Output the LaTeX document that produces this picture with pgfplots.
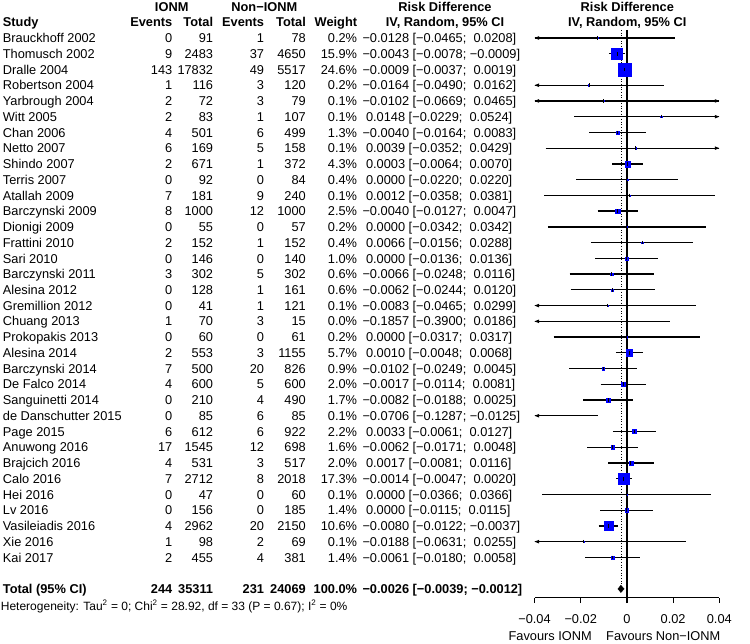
\documentclass[border=0pt]{standalone}
\usepackage{pgfplots}
\pgfplotsset{compat=1.18}
\usepackage{pgfplotstable}
\usepackage{fontspec}
\setmainfont{Liberation Sans}
\newcommand\fs{\fontsize{12.8}{15}\selectfont}
\newcommand\hs{\fontsize{12}{14}\selectfont}
\pgfdeclareplotmark{larr}{\pgfpathmoveto{\pgfqpoint{0pt}{0pt}}\pgfpathlineto{\pgfqpoint{4.5pt}{1.8pt}}\pgfpathlineto{\pgfqpoint{4.5pt}{-1.8pt}}\pgfpathclose\pgfusepathqfill}
\pgfdeclareplotmark{rarr}{\pgfpathmoveto{\pgfqpoint{0pt}{0pt}}\pgfpathlineto{\pgfqpoint{-4.5pt}{1.8pt}}\pgfpathlineto{\pgfqpoint{-4.5pt}{-1.8pt}}\pgfpathclose\pgfusepathqfill}
\pgfplotstableread{
r est lo hi w
-1 -0.0128 -0.0465 0.0208 0.2
-2 -0.0043 -0.0078 -0.0009 15.9
-3 -0.0009 -0.0037 0.0019 24.6
-4 -0.0164 -0.0490 0.0162 0.2
-5 -0.0102 -0.0669 0.0465 0.1
-6 0.0148 -0.0229 0.0524 0.1
-7 -0.0040 -0.0164 0.0083 1.3
-8 0.0039 -0.0352 0.0429 0.1
-9 0.0003 -0.0064 0.0070 4.3
-10 0.0000 -0.0220 0.0220 0.4
-11 0.0012 -0.0358 0.0381 0.1
-12 -0.0040 -0.0127 0.0047 2.5
-13 0.0000 -0.0342 0.0342 0.2
-14 0.0066 -0.0156 0.0288 0.4
-15 0.0000 -0.0136 0.0136 1.0
-16 -0.0066 -0.0248 0.0116 0.6
-17 -0.0062 -0.0244 0.0120 0.6
-18 -0.0083 -0.0465 0.0299 0.1
-19 -0.1857 -0.3900 0.0186 0.0
-20 0.0000 -0.0317 0.0317 0.2
-21 0.0010 -0.0048 0.0068 5.7
-22 -0.0102 -0.0249 0.0045 0.9
-23 -0.0017 -0.0114 0.0081 2.0
-24 -0.0082 -0.0188 0.0025 1.7
-25 -0.0706 -0.1287 -0.0125 0.1
-26 0.0033 -0.0061 0.0127 2.2
-27 -0.0062 -0.0171 0.0048 1.6
-28 0.0017 -0.0081 0.0116 2.0
-29 -0.0014 -0.0047 0.0020 17.3
-30 0.0000 -0.0366 0.0366 0.1
-31 0.0000 -0.0115 0.0115 1.4
-32 -0.0080 -0.0122 -0.0037 10.6
-33 -0.0188 -0.0631 0.0255 0.1
-34 -0.0061 -0.0180 0.0058 1.4
}\studies
\begin{document}
\begin{tikzpicture}[font=\fs, every node/.style={inner sep=0pt}]
\useasboundingbox (0,0) rectangle (750pt,-643pt);
\begin{axis}[
  at={(534.5pt,-597.7pt)}, anchor=south west,
  x=2310pt, y=15.74pt,
  xmin=-0.04, xmax=0.04, ymin=-36.56, ymax=-0.49,
  axis x line*=bottom, axis y line=none,
  clip=false,
  scaled x ticks=false,
  axis line style={line width=1.2pt, black},
  xtick={-0.04,-0.02,0,0.02,0.04},
  xticklabels={−0.04,−0.02,0,0.02,0.04},
  tick align=outside, major tick length=5.5pt,
  every tick/.style={black, line width=1.2pt},
  xticklabel style={font=\fs, anchor=north, yshift=-11pt},
]
\addplot[black, line width=1.2pt] coordinates {(0,-0.49) (0,-36.56)};
\addplot[black, line width=0.7pt, dotted] coordinates {(-0.0026,-0.49) (-0.0026,-35.7)};
% squares
\addplot[scatter, only marks, mark=square*,
  restrict x to domain=-0.04:0.04,
  scatter/use mapped color={draw=blue, fill=blue},
  visualization depends on={max(1.36*sqrt(\thisrow{w}),0.6) \as \msz},
  scatter/@pre marker code/.append style={/tikz/mark size=\msz pt},
  mark options={line width=0.3pt}]
  table[x=est, y=r] {\studies};
% CI lines
\addplot[black, line width=1.3pt, mark=none,
  quiver={u={min(\thisrow{hi},0.04)-max(\thisrow{lo},-0.04)}, v=0,
          every arrow/.append style={line width=1.3pt, black}}]
  table[x expr={max(\thisrow{lo},-0.04)}, y=r] {\studies};
% estimate ticks
\addplot[only marks, mark=|, mark size=1.8pt, black, mark options={line width=0.9pt},
  restrict x to domain=-0.04:0.04]
  table[x=est, y=r] {\studies};
% arrows
\addplot[only marks, mark=larr, black, restrict expr to domain={\thisrow{lo}}{-1:-0.04}]
  table[x expr=-0.04, y=r] {\studies};
\addplot[only marks, mark=rarr, black, restrict expr to domain={\thisrow{hi}}{0.04:1}]
  table[x expr=0.04, y=r] {\studies};
% diamond
\addplot[fill=black, draw=black, line width=0.4pt] coordinates
  {(-0.0039,-36) (-0.0026,-35.77) (-0.0012,-36) (-0.0026,-36.23) (-0.0039,-36)};
\end{axis}
% header
\node[font=\fs\bfseries, anchor=base] at (171.7pt,-11.2pt) {IONM};
\node[font=\fs\bfseries, anchor=base] at (264.3pt,-11.2pt) {Non−IONM};
\node[font=\fs\bfseries, anchor=base] at (445pt,-11.2pt) {Risk Difference};
\node[font=\fs\bfseries, anchor=base] at (627.3pt,-11.2pt) {Risk Difference};
\node[font=\fs\bfseries, anchor=base west] at (2.7pt,-26.9pt) {Study};
\node[font=\fs\bfseries, anchor=base east] at (172.5pt,-26.9pt) {Events};
\node[font=\fs\bfseries, anchor=base east] at (213.3pt,-26.9pt) {Total};
\node[font=\fs\bfseries, anchor=base east] at (264.3pt,-26.9pt) {Events};
\node[font=\fs\bfseries, anchor=base east] at (306pt,-26.9pt) {Total};
\node[font=\fs\bfseries, anchor=base east] at (357.3pt,-26.9pt) {Weight};
\node[font=\fs\bfseries, anchor=base] at (445pt,-26.9pt) {IV, Random, 95\% CI};
\node[font=\fs\bfseries, anchor=base] at (627.3pt,-26.9pt) {IV, Random, 95\% CI};
% rows
\foreach \nm/\ea/\ta/\eb/\tb/\wt/\ci [count=\i] in {
Brauckhoff 2002/0/91/1/78/0.2/{−0.0128 [−0.0465;\ \ 0.0208]},
Thomusch 2002/9/2483/37/4650/15.9/{−0.0043 [−0.0078; −0.0009]},
Dralle 2004/143/17832/49/5517/24.6/{−0.0009 [−0.0037;\ \ 0.0019]},
Robertson 2004/1/116/3/120/0.2/{−0.0164 [−0.0490;\ \ 0.0162]},
Yarbrough 2004/2/72/3/79/0.1/{−0.0102 [−0.0669;\ \ 0.0465]},
Witt 2005/2/83/1/107/0.1/{\ 0.0148 [−0.0229;\ \ 0.0524]},
Chan 2006/4/501/6/499/1.3/{−0.0040 [−0.0164;\ \ 0.0083]},
Netto 2007/6/169/5/158/0.1/{\ 0.0039 [−0.0352;\ \ 0.0429]},
Shindo 2007/2/671/1/372/4.3/{\ 0.0003 [−0.0064;\ \ 0.0070]},
Terris 2007/0/92/0/84/0.4/{\ 0.0000 [−0.0220;\ \ 0.0220]},
Atallah 2009/7/181/9/240/0.1/{\ 0.0012 [−0.0358;\ \ 0.0381]},
Barczynski 2009/8/1000/12/1000/2.5/{−0.0040 [−0.0127;\ \ 0.0047]},
Dionigi 2009/0/55/0/57/0.2/{\ 0.0000 [−0.0342;\ \ 0.0342]},
Frattini 2010/2/152/1/152/0.4/{\ 0.0066 [−0.0156;\ \ 0.0288]},
Sari 2010/0/146/0/140/1.0/{\ 0.0000 [−0.0136;\ \ 0.0136]},
Barczynski 2011/3/302/5/302/0.6/{−0.0066 [−0.0248;\ \ 0.0116]},
Alesina 2012/0/128/1/161/0.6/{−0.0062 [−0.0244;\ \ 0.0120]},
Gremillion 2012/0/41/1/121/0.1/{−0.0083 [−0.0465;\ \ 0.0299]},
Chuang 2013/1/70/3/15/0.0/{−0.1857 [−0.3900;\ \ 0.0186]},
Prokopakis 2013/0/60/0/61/0.2/{\ 0.0000 [−0.0317;\ \ 0.0317]},
Alesina 2014/2/553/3/1155/5.7/{\ 0.0010 [−0.0048;\ \ 0.0068]},
Barczynski 2014/7/500/20/826/0.9/{−0.0102 [−0.0249;\ \ 0.0045]},
De Falco 2014/4/600/5/600/2.0/{−0.0017 [−0.0114;\ \ 0.0081]},
Sanguinetti 2014/0/210/4/490/1.7/{−0.0082 [−0.0188;\ \ 0.0025]},
de Danschutter 2015/0/85/6/85/0.1/{−0.0706 [−0.1287; −0.0125]},
Page 2015/6/612/6/922/2.2/{\ 0.0033 [−0.0061;\ \ 0.0127]},
Anuwong 2016/17/1545/12/698/1.6/{−0.0062 [−0.0171;\ \ 0.0048]},
Brajcich 2016/4/531/3/517/2.0/{\ 0.0017 [−0.0081;\ \ 0.0116]},
Calo 2016/7/2712/8/2018/17.3/{−0.0014 [−0.0047;\ \ 0.0020]},
Hei 2016/0/47/0/60/0.1/{\ 0.0000 [−0.0366;\ \ 0.0366]},
Lv 2016/0/156/0/185/1.4/{\ 0.0000 [−0.0115;\ \ 0.0115]},
Vasileiadis 2016/4/2962/20/2150/10.6/{−0.0080 [−0.0122; −0.0037]},
Xie 2016/1/98/2/69/0.1/{−0.0188 [−0.0631;\ \ 0.0255]},
Kai 2017/2/455/4/381/1.4/{−0.0061 [−0.0180;\ \ 0.0058]}}{
  \pgfmathsetmacro\yb{-(22.3+15.74*\i+4.6)}
  \node[anchor=base west] at (2.7pt,\yb pt) {\nm};
  \node[anchor=base east] at (172.5pt,\yb pt) {\ea};
  \node[anchor=base east] at (213.3pt,\yb pt) {\ta};
  \node[anchor=base east] at (264.3pt,\yb pt) {\eb};
  \node[anchor=base east] at (306pt,\yb pt) {\tb};
  \node[anchor=base east] at (357.3pt,\yb pt) {\wt\%};
  \node[anchor=base west] at (362.3pt,\yb pt) {\ci};
}
% total
\node[font=\fs\bfseries, anchor=base west] at (2.7pt,-593.5pt) {Total (95\% CI)};
\node[font=\fs\bfseries, anchor=base east] at (172.5pt,-593.5pt) {244};
\node[font=\fs\bfseries, anchor=base east] at (213.3pt,-593.5pt) {35311};
\node[font=\fs\bfseries, anchor=base east] at (264.3pt,-593.5pt) {231};
\node[font=\fs\bfseries, anchor=base east] at (306pt,-593.5pt) {24069};
\node[font=\fs\bfseries, anchor=base east] at (357.3pt,-593.5pt) {100.0\%};
\node[font=\fs\bfseries, anchor=base west] at (362.3pt,-593.5pt) {−0.0026 [−0.0039; −0.0012]};
\node[font=\hs, anchor=base west] at (0.7pt,-610.2pt) {Heterogeneity: Tau\textsuperscript{2} = 0; Chi\textsuperscript{2} = 28.92, df = 33 (P = 0.67); I\textsuperscript{2} = 0\%};
\node[anchor=base east] at (592pt,-640pt) {Favours IONM};
\node[anchor=base west] at (606pt,-640pt) {Favours Non−IONM};
\end{tikzpicture}
\end{document}
